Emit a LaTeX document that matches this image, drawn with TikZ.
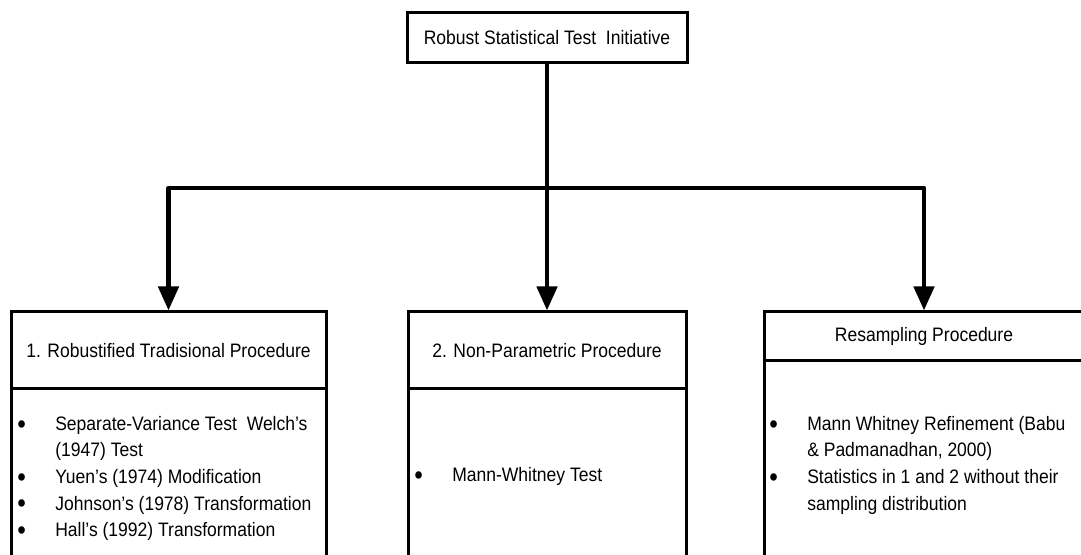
\documentclass[tikz,border=0pt]{standalone}
\usepackage{fontspec}
\setmainfont[FakeStretch=0.9]{Liberation Sans}
\usetikzlibrary{arrows.meta, positioning}

\newcommand{\itm}{\makebox[28.5pt][l]{\smash{\raisebox{-0.14em}{\scalebox{1.4}{\textbullet}}}}}

\begin{document}
\begin{tikzpicture}[x=0.75pt, y=-0.75pt, >={Triangle[length=18pt, width=15pt]},
  box/.style={draw, line width=2.25pt, inner sep=0pt, font=\fontsize{14.6}{19.95}\selectfont},
  link/.style={line width=3.5pt, line join=round},
  list/.style={anchor=north west, inner sep=0pt, align=left, font=\fontsize{14.6}{19.95}\selectfont}]
  \useasboundingbox (0,0) rectangle (1081,555);
  \clip (0,0) rectangle (1081,555);

  % top box and the three headers
  \node[box, minimum width=210pt, minimum height=37.5pt] (title) at (547,38) {\raisebox{-1pt}{Robust Statistical Test~~Initiative}};
  \node[box, minimum width=236.25pt, minimum height=57.75pt] (head1) at (168.5,350.5) {1. Robustified Tradisional Procedure};
  \node[box, minimum width=208.5pt, minimum height=57.75pt] (head2) at (547,350.5) {2. Non-Parametric Procedure};
  \node[box, minimum width=240pt, minimum height=36.75pt] (head3) at (924,336.5) {Resampling Procedure};

  % bodies run off the bottom edge
  \node[box, minimum width=236.25pt, minimum height=143.25pt] (body1) at (168.5,484.5) {};
  \node[box, minimum width=208.5pt, minimum height=143.25pt] (body2) at (547,484.5) {};
  \node[box, minimum width=240pt, minimum height=164.25pt] (body3) at (924,470.5) {};

  \node[list] (list1) at (17,416) {%
    \itm Separate-Variance Test~~Welch's\\
    \hphantom{\itm}(1947) Test\\
    \itm Yuen's (1974) Modification\\
    \itm Johnson's (1978) Transformation\\
    \itm Hall's (1992) Transformation};
  \node[list] (list2) at (414,467) {\itm Mann-Whitney Test};
  \node[list] (list3) at (769,416) {%
    \itm Mann Whitney Refinement (Babu\\
    \hphantom{\itm}\& Padmanadhan, 2000)\\
    \itm Statistics in 1 and 2 without their\\
    \hphantom{\itm}sampling distribution};

  % connectors
  \coordinate (split) at (547,188);
  \draw[link, ->] (title.south) -- (head2.north);
  \draw[link, ->] (split) -| (head1.north);
  \draw[link, ->] (split) -| (head3.north);
\end{tikzpicture}
\end{document}
